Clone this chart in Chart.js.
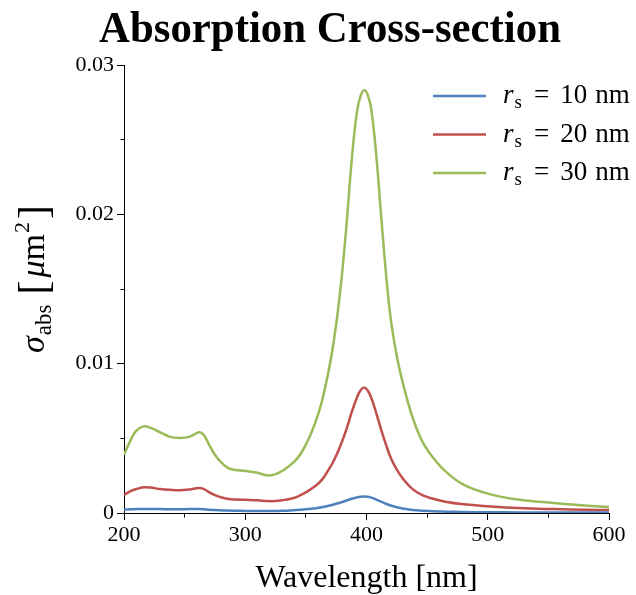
<!DOCTYPE html>
<html>
<head>
<meta charset="utf-8">
<title>Absorption Cross-section</title>
<script src="https://cdn.jsdelivr.net/npm/chart.js@4.4.1/dist/chart.umd.min.js"></script>
<style>
  html, body { margin: 0; padding: 0; background: #fff; }
  #wrap { width: 636px; height: 595px; }
</style>
</head>
<body>
<div id="wrap"><canvas id="absChart" width="636" height="595"></canvas></div>
<script>
// Wavelength grid [nm]
const wavelength = [200, 205, 210, 216, 222, 230, 238, 246, 254, 262, 266, 270, 275, 280, 286, 292,
  300, 310, 318, 325, 332, 340, 346, 352, 358, 363, 368, 373, 378, 383, 388, 392, 395, 398, 401,
  404, 408, 412, 416, 420, 425, 430, 438, 446, 455, 465, 480, 500, 525, 555, 580, 600];

// Shell radii [nm] for each curve
const radii = [10, 20, 30];

// Absorption cross-section [um^2]
const sigma10 = [0.00022, 0.00025, 0.00026, 0.00027, 0.00027, 0.00026, 0.00025, 0.00025, 0.00026, 0.00027,
  0.00025, 0.00022, 0.0002, 0.00018, 0.00016, 0.00015, 0.00014, 0.00013, 0.00013, 0.00013, 0.00015,
  0.00018, 0.00022, 0.00027, 0.00032, 0.00039, 0.00047, 0.00057, 0.00069, 0.00082, 0.00095, 0.00104,
  0.00109, 0.00111, 0.00109, 0.00103, 0.0009, 0.00076, 0.00062, 0.0005, 0.00038, 0.0003, 0.0002,
  0.00015, 0.00011, 0.00009, 0.00007, 0.00005, 0.00004, 0.00003, 0.00003, 0.00003];
const sigma20 = [0.0012, 0.00145, 0.0016, 0.00172, 0.0017, 0.0016, 0.00155, 0.00153, 0.00158, 0.00167,
  0.0016, 0.0014, 0.0012, 0.00105, 0.00094, 0.0009, 0.00088, 0.00085, 0.0008, 0.0008, 0.00088,
  0.001, 0.00121, 0.00148, 0.00182, 0.0022, 0.0028, 0.0035, 0.0044, 0.0055, 0.0068, 0.0077,
  0.0082, 0.0084, 0.0082, 0.0077, 0.0067, 0.0056, 0.0046, 0.0037, 0.0029, 0.0023, 0.0016,
  0.0012, 0.00095, 0.00075, 0.00058, 0.00045, 0.00033, 0.00026, 0.00022, 0.0002];
const sigma30 = [0.0039, 0.0048, 0.0055, 0.0058, 0.0057, 0.0054, 0.0051, 0.00503, 0.0051, 0.0054,
  0.0052, 0.0046, 0.0039, 0.0034, 0.003, 0.00288, 0.00282, 0.0027, 0.00252, 0.0026, 0.0029,
  0.0034, 0.004, 0.0049, 0.0061, 0.0074, 0.0092, 0.0115, 0.0146, 0.0188, 0.0238, 0.0268,
  0.0279, 0.0283, 0.028, 0.0270, 0.0240, 0.0200, 0.0161, 0.0130, 0.0105, 0.0087, 0.0064,
  0.0048, 0.0037, 0.0028, 0.0019, 0.0013, 0.0009, 0.00067, 0.0005, 0.0004];

const xTickLabels = [200, 300, 400, 500, 600];
const yTickLabels = ['0', '0.01', '0.02', '0.03'];

const lineColors = ['#4f81bd', '#c0504d', '#9bbb59'];
const SERIF = '"Liberation Serif", "DejaVu Serif", serif';

// draws a run of text pieces left to right, each with its own font / offset
function drawPieces(ctx, x, y, pieces) {
  let cx = x;
  pieces.forEach(p => {
    ctx.font = p.font;
    cx += p.gap || 0;
    ctx.fillText(p.text, cx, y + (p.dy || 0));
    cx += ctx.measureText(p.text).width;
  });
  return cx - x;
}

function piecesWidth(ctx, pieces) {
  let w = 0;
  pieces.forEach(p => {
    ctx.font = p.font;
    w += (p.gap || 0) + ctx.measureText(p.text).width;
  });
  return w;
}

// title, axis titles with math and the legend
const annotations = {
  id: 'annotations',
  afterDraw(chart) {
    const ctx = chart.ctx;
    const area = chart.chartArea;
    ctx.save();
    ctx.fillStyle = '#000';
    ctx.textBaseline = 'alphabetic';

    // title
    ctx.textAlign = 'center';
    ctx.font = 'bold 45px ' + SERIF;
    ctx.fillText('Absorption Cross-section', 330, 42, 462);

    // x axis title
    ctx.font = '32px ' + SERIF;
    ctx.fillText('Wavelength [nm]', (area.left + area.right) / 2, 587);

    // y axis title: sigma_abs [um^2]
    ctx.textAlign = 'left';
    const yTitle = [
      { text: '\u03c3', font: 'italic 34px ' + SERIF },
      { text: 'abs', font: '23px ' + SERIF, dy: 7, gap: 1 },
      { text: '[', font: '42px ' + SERIF, dy: 3, gap: 10 },
      { text: '\u03bc', font: 'italic 34px ' + SERIF, gap: 3 },
      { text: 'm', font: '34px ' + SERIF },
      { text: '2', font: '22px ' + SERIF, dy: -15, gap: 1 },
      { text: ']', font: '42px ' + SERIF, dy: 3, gap: 3 }
    ];
    ctx.save();
    ctx.translate(44, 279);
    ctx.rotate(-Math.PI / 2);
    drawPieces(ctx, -piecesWidth(ctx, yTitle) / 2, 0, yTitle);
    ctx.restore();

    // legend
    chart.data.datasets.forEach((ds, i) => {
      const base = 103 + i * 38.5;
      ctx.strokeStyle = ds.borderColor;
      ctx.lineWidth = 2.5;
      ctx.beginPath();
      ctx.moveTo(433, base - 7);
      ctx.lineTo(486, base - 7);
      ctx.stroke();
      drawPieces(ctx, 503, base, [
        { text: 'r', font: 'italic 27px ' + SERIF },
        { text: 's', font: '19px ' + SERIF, dy: 5, gap: 1 },
        { text: '=', font: '27px ' + SERIF, gap: 12 },
        { text: String(radii[i]), font: '27px ' + SERIF, gap: 11 },
        { text: 'nm', font: '27px ' + SERIF, gap: 8 }
      ]);
    });
    ctx.restore();
  }
};

const isMajorX = v => xTickLabels.includes(v);
const isMajorY = v => Math.abs(v * 100 - Math.round(v * 100)) < 1e-6;

const ctx = document.getElementById('absChart').getContext('2d');
new Chart(ctx, {
  type: 'line',
  data: {
    datasets: [sigma10, sigma20, sigma30].map((vals, i) => ({
      label: 'r_s = ' + radii[i] + ' nm',
      data: wavelength.map((w, k) => ({ x: w, y: vals[k] })),
      borderColor: lineColors[i],
      borderWidth: 2.5,
      pointRadius: 0,
      tension: 0.4,
      fill: false
    }))
  },
  options: {
    responsive: false,
    animation: false,
    layout: { padding: { top: 65, right: 27, left: 0, bottom: 0 } },
    plugins: {
      legend: { display: false },
      tooltip: { enabled: false },
      title: { display: false }
    },
    scales: {
      x: {
        type: 'linear',
        min: 200,
        max: 600,
        afterFit: scale => { scale.height = 82; },
        ticks: {
          stepSize: 50,
          autoSkip: false,
          maxRotation: 0,
          padding: 2,
          color: '#000',
          font: { family: SERIF, size: 22 },
          callback: v => isMajorX(v) ? String(v) : ''
        },
        grid: {
          drawOnChartArea: false,
          drawTicks: true,
          tickLength: 7,
          tickColor: '#000',
          tickWidth: 1,
          // minor ticks: only the half next to the axis is drawn
          tickBorderDash: c => (c.tick && !isMajorX(c.tick.value)) ? [3.5, 100] : []
        },
        border: { display: true, color: '#000', width: 1 }
      },
      y: {
        min: 0,
        max: 0.03,
        afterFit: scale => { scale.width = 124; },
        ticks: {
          stepSize: 0.005,
          autoSkip: false,
          padding: 3,
          color: '#000',
          font: { family: SERIF, size: 22 },
          callback: v => isMajorY(v) ? yTickLabels[Math.round(v * 100)] : ''
        },
        grid: {
          drawOnChartArea: false,
          drawTicks: true,
          tickLength: 7,
          tickColor: '#000',
          tickWidth: 1,
          tickBorderDash: c => (c.tick && !isMajorY(c.tick.value)) ? [0, 3.5, 3.5, 100] : []
        },
        border: { display: true, color: '#000', width: 1 }
      }
    }
  },
  plugins: [annotations]
});
</script>
</body>
</html>
